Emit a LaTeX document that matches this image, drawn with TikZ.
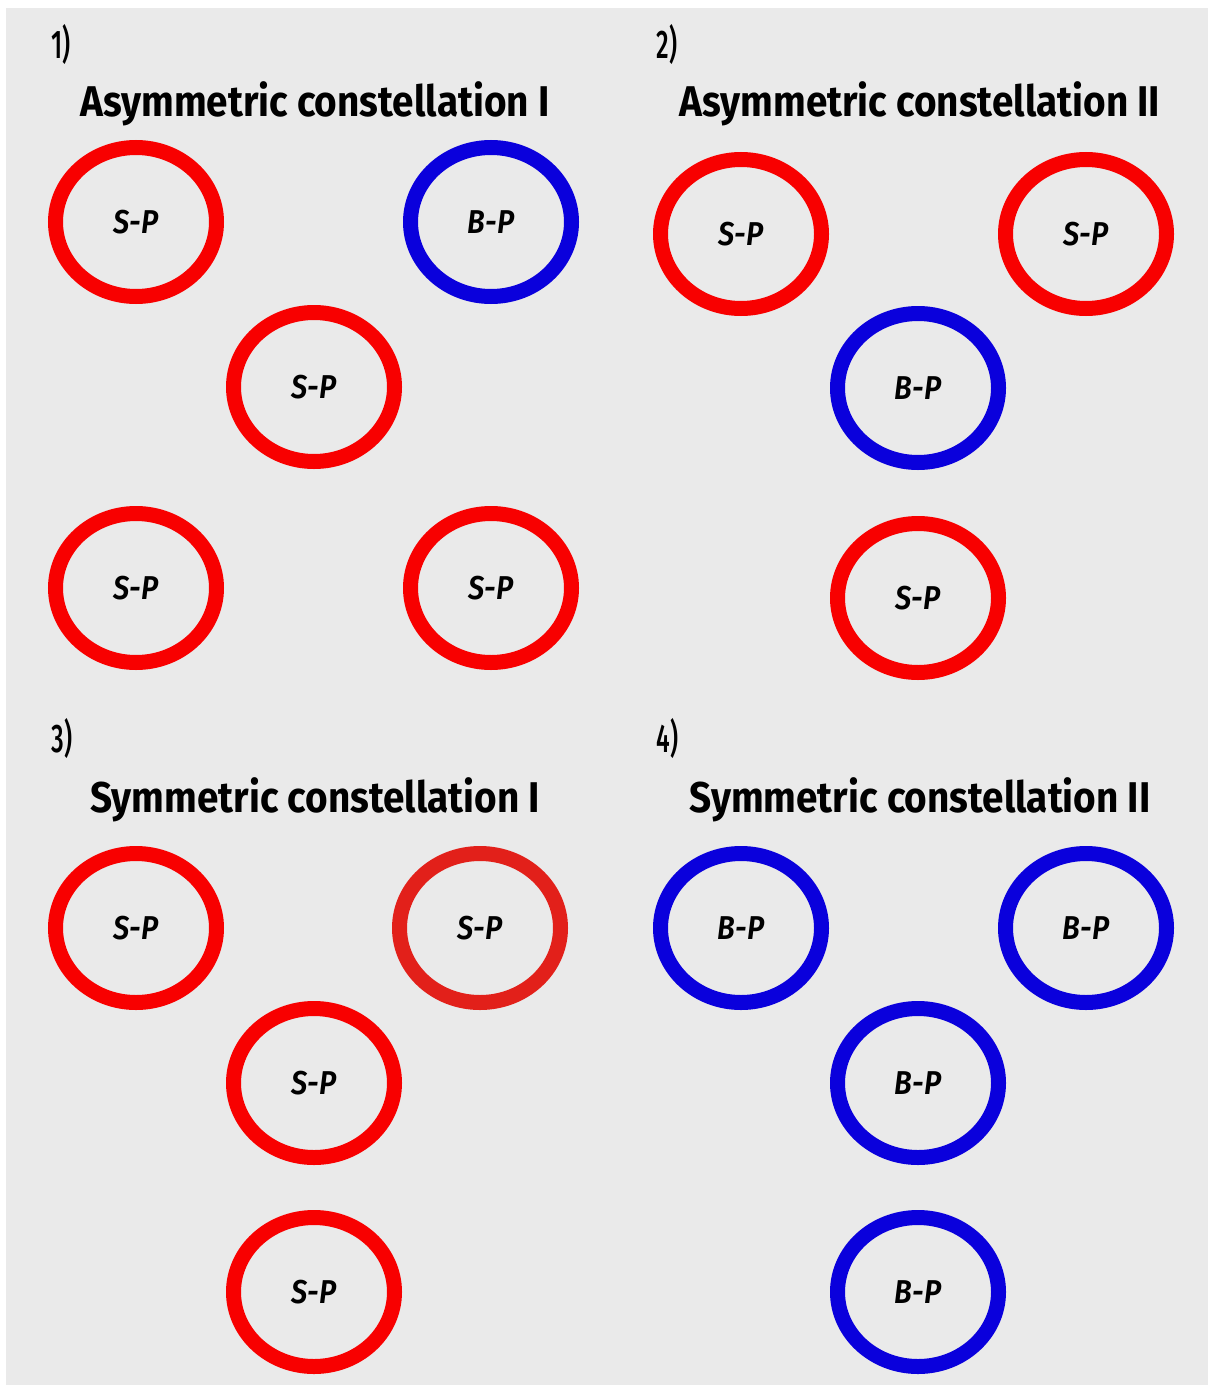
\documentclass[tikz,border=0pt]{standalone}
\usepackage{fontspec}
\usetikzlibrary{shapes.geometric}
\newfontfamily\titlefont[FakeStretch=0.9]{Fira Sans Bold}
\newfontfamily\numfont[FakeStretch=0.62]{Fira Sans Medium}
\newfontfamily\lblfont[FakeStretch=0.88]{Fira Sans SemiBold Italic}
\definecolor{bg}{HTML}{EAEAEA}
\definecolor{ringred}{HTML}{F80000}
\definecolor{ringdark}{HTML}{E2201A}
\definecolor{ringblue}{HTML}{0A00DC}
\tikzset{
  ring/.style={ellipse, draw, line width=15pt, minimum width=161pt, minimum height=149pt,
    inner sep=0pt, font=\lblfont\fontsize{33}{33}\selectfont, text=black},
  sp/.style={ring, draw=ringred},
  bp/.style={ring, draw=ringblue},
  title/.style={font=\titlefont\fontsize{43}{43}\selectfont, text=black},
  num/.style={font=\numfont\fontsize{40}{40}\selectfont, text=black, anchor=west}
}
\begin{document}
\begin{tikzpicture}[x=1pt,y=-1pt]
\useasboundingbox (0,0) rectangle (1212,1389);
\fill[white] (0,0) rectangle (1212,1389);
\fill[bg] (6,8) rectangle (1208,1385);
% panel 1
\node[num] (n1) at (48,45) {1)};
\node[title] (t1) at (315,104) {Asymmetric constellation I};
\node[sp] (a1) at (136,222) {S-P};
\node[bp] (a2) at (491,222) {B-P};
\node[sp] (a3) at (314,387) {S-P};
\node[sp] (a4) at (136,588) {S-P};
\node[sp] (a5) at (491,588) {S-P};
% panel 2
\node[num] (n2) at (653,45) {2)};
\node[title] (t2) at (920,104) {Asymmetric constellation II};
\node[sp] (b1) at (741,234) {S-P};
\node[sp] (b2) at (1086,234) {S-P};
\node[bp] (b3) at (918,388) {B-P};
\node[sp] (b4) at (918,598) {S-P};
% panel 3
\node[num] (n3) at (48,738) {3)};
\node[title] (t3) at (315,800) {Symmetric constellation I};
\node[sp] (c1) at (136,928) {S-P};
\node[ring, draw=ringdark] (c2) at (480,928) {S-P};
\node[sp] (c3) at (314,1083) {S-P};
\node[sp] (c4) at (314,1292) {S-P};
% panel 4
\node[num] (n4) at (653,738) {4)};
\node[title] (t4) at (920,800) {Symmetric constellation II};
\node[bp] (d1) at (741,928) {B-P};
\node[bp] (d2) at (1086,928) {B-P};
\node[bp] (d3) at (918,1083) {B-P};
\node[bp] (d4) at (918,1292) {B-P};
\end{tikzpicture}
\end{document}
